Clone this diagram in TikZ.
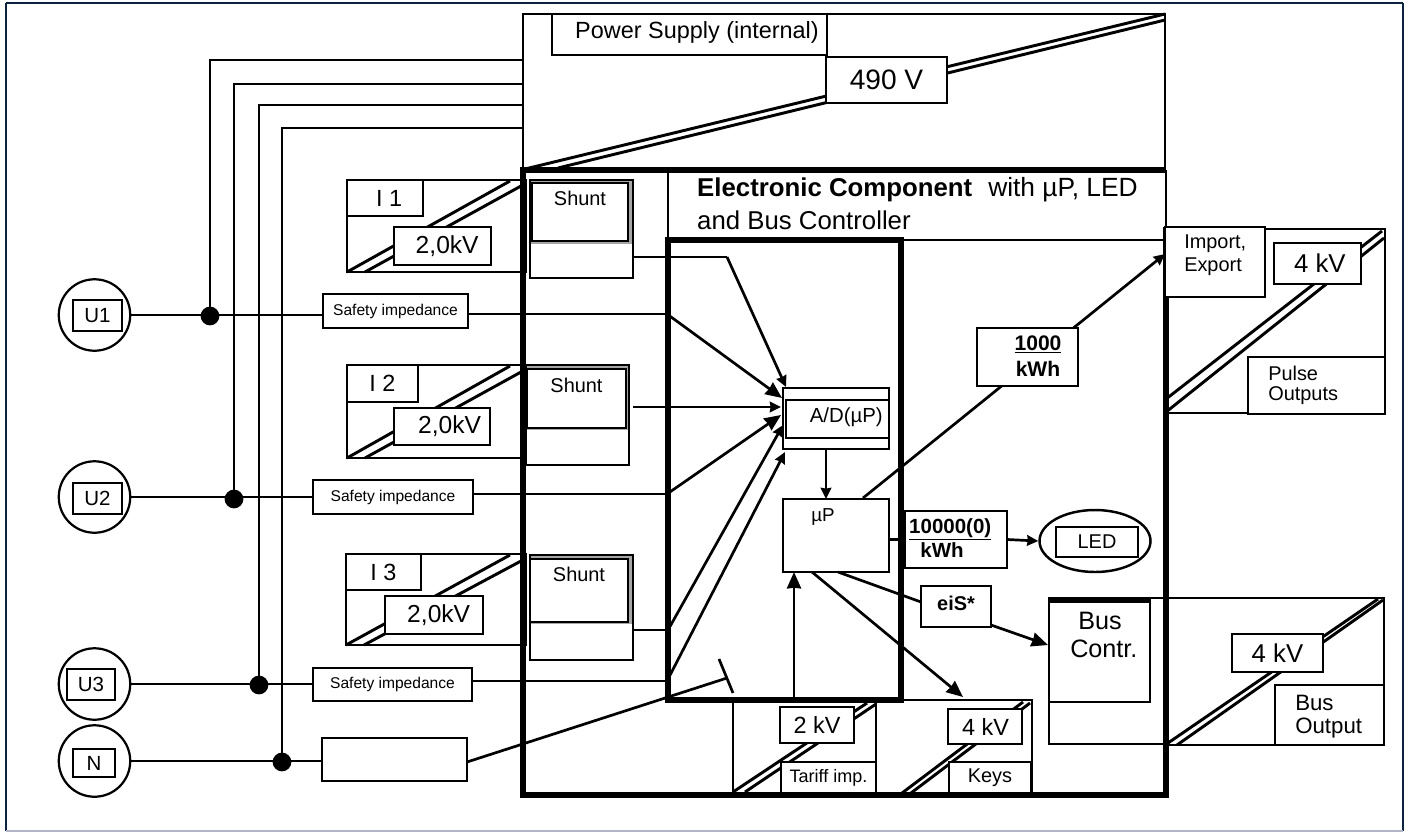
\documentclass[tikz,border=0pt]{standalone}
\usepackage{fontspec}
\setmainfont{Liberation Sans}
\usepackage{tikz}
\usetikzlibrary{arrows.meta, positioning, shapes.geometric}
\newcommand{\fsz}[1]{\fontsize{#1}{#1}\selectfont}
\definecolor{framenavy}{HTML}{0B2240}
\definecolor{framegrey}{HTML}{B4B4C8}

\tikzset{
  wh/.style 2 args={minimum width=#1*0.03cm, minimum height=#2*0.03cm, inner sep=0pt, outer sep=0pt, anchor=north west},
  wire/.style={line width=2.3pt},
  panel/.style={line width=2.5pt},
  heavy/.style={line width=5pt},
  box/.style={draw, line width=2.1pt, fill=white},
  lbl/.style={font=\fsz{17}, inner sep=0pt, anchor=west},
  dot/.style={circle, fill=black, minimum size=16pt, inner sep=0pt},
  source/.style={circle, draw, line width=1.9pt, minimum size=61pt, inner sep=0pt},
  shuntin/.style={draw, line width=2.4pt, fill=white, font=\fsz{17}},
  smalltip/.style={-{Stealth[length=9.5pt, width=9pt, inset=0.6pt]}},
}

\begin{document}
\begin{tikzpicture}[
  >={Stealth[length=14pt, width=12pt, inset=0.6pt]},
  x=0.03cm, y=-0.03cm,
]
\useasboundingbox (0,0) rectangle (1412,832);

% --- Outer frame ---
\draw[line width=2.2pt, framenavy] (6,3) -- (1403,3);
\draw[line width=2.2pt, framenavy] (6,3) -- (6,831);
\draw[line width=2.2pt, framenavy] (1403,3) -- (1403,831);
\draw[line width=1.5pt, framegrey] (6,831) -- (1403,831);

% --- Power supply ---
\draw[panel] (523,170) -- (523,14) -- (1165,14) -- (1165,170);
\draw[panel] (525,169) -- (1165,14);
\draw[panel] (558,168) -- (1165,20);
\node[box, wh={275}{41}] (psu) at (552,14) {};
\node[lbl, font=\fsz{20}] at (575,32) {Power Supply (internal)};
\node[box, wh={121}{46}, font=\fsz{24}] (psuv) at (826,57) {490 V};

% --- Voltage sources ---
\node[source] (uone) at (94.5,315) {};
\node[source] (utwo) at (94.5,497) {};
\node[source] (uthree) at (94.5,684) {};
\node[source] (un) at (94.5,761) {};
\node[box, wh={49}{31}, font=\fsz{17.5}] at (73,300) {U1\hspace{11pt}};
\node[box, wh={49}{31}, font=\fsz{17.5}] at (73,483) {U2\hspace{11pt}};
\node[box, wh={48}{31}, font=\fsz{17.5}] at (67,669) {U3\hspace{9pt}};
\node[box, wh={42}{28}, font=\fsz{17.5}] at (73,749) {N};

% --- Impedances ---
\node[box, wh={145}{34}, font=\fsz{13.3}] (zone) at (323,294) {Safety impedance};
\node[box, wh={160}{34}, font=\fsz{13.3}] (ztwo) at (313,480) {Safety impedance};
\node[box, wh={159}{33}, font=\fsz{13.3}] (zthree) at (313,668) {Safety impedance};
\node[box, wh={145}{43}] (zn) at (322,738) {};

% --- Bus lines ---
\coordinate (busa) at (523,60);
\coordinate (busb) at (523,84);
\coordinate (busc) at (523,105);
\coordinate (busd) at (523,128);
\node[dot] (dota) at (210,316) {};
\node[dot] (dotb) at (234,499) {};
\node[dot] (dotc) at (259,685) {};
\node[dot] (dotd) at (282,762) {};
\draw[wire] (dota.center) |- (busa);
\draw[wire] (dotb.center) |- (busb);
\draw[wire] (dotc.center) |- (busc);
\draw[wire] (dotd.center) |- (busd);
\draw[wire] (uone.east) -- (uone.east -| zone.west);
\draw[wire] (utwo.east) -- (utwo.east -| ztwo.west);
\draw[wire] (uthree.east) -- (uthree.east -| zthree.west);
\draw[wire] (un.east) -- (un.east -| zn.west);

% --- Current inputs ---
\draw[panel] (347,180) rectangle (526,272);
\draw[panel] (347,272) -- (510,181);
\draw[panel] (365,272) -- (521,186);
\node[box, wh={76}{36}, font=\fsz{20}] at (347,180) {\hspace{7pt}I 1};
\node[box, wh={97}{38}, font=\fsz{21}] (kva) at (394,227) {\hspace{8pt}2,0kV};

\draw[panel] (347,365) rectangle (526,458);
\draw[panel] (347,458) -- (510,366);
\draw[panel] (365,458) -- (521,372);
\node[box, wh={71}{37}, font=\fsz{20}] at (347,365) {I 2};
\node[box, wh={96}{37}, font=\fsz{21}] (kvb) at (394,408) {\hspace{13pt}2,0kV};

\draw[panel] (346,554) rectangle (526,645);
\draw[panel] (346,645) -- (510,555);
\draw[panel] (364,645) -- (521,561);
\node[box, wh={75}{36}, font=\fsz{20}] at (346,554) {I 3};
\node[box, wh={98}{38}, font=\fsz{21}] (kvc) at (385,596) {\hspace{8pt}2,0kV};

% --- Electronic component ---
\draw[heavy] (1166,227) -- (1166,795) -- (523,795) -- (523,170) -- (1166,170);
\draw[panel] (1166,170) -- (1166,227);
\draw[panel] (668,170) -- (668,240);
\draw[panel] (900,240) -- (1166,240);
\node[lbl, font=\fsz{22}] (title) at (697,190) {\textbf{Electronic Component}};
\node[lbl, font=\fsz{22.5}] at (988,190) {with µP, LED};
\node[lbl, font=\fsz{22}] at (697,220) {and Bus Controller};
\draw[heavy] (668,240) rectangle (901,700);

% --- Shunts ---
\node[draw, line width=2.2pt, fill=white, wh={103}{98}] (shunta) at (530,180) {};
\fill[gray!70] (531,181) rectangle (632,244);
\node[shuntin, wh={96}{58}] at (532,183) {\raisebox{24pt}{Shunt}};
\node[draw, line width=2.2pt, fill=white, wh={103}{100}] (shuntb) at (526,365) {};
\fill[gray!70] (527,366) rectangle (628,430);
\node[shuntin, wh={99}{59}] at (527,369) {\raisebox{23pt}{Shunt}};
\node[draw, line width=2.2pt, fill=white, wh={103}{105}] (shuntc) at (530,555) {};
\fill[gray!70] (531,556) rectangle (632,624);
\node[shuntin, wh={98}{63}] at (530,559) {\raisebox{27pt}{Shunt}};

% --- A/D and processor ---
\node[box, wh={106}{61}] (adout) at (783,388) {};
\node[draw, line width=2.1pt, wh={103}{38}] (adin) at (786,400) {};
\node[lbl, anchor=east, font=\fsz{17.4}] at (883,417) {A/D(µP)};
\node[box, wh={106}{73}] (mup) at (783,499) {};
\node[font=\fsz{16}] at (823,517) {µP};
\coordinate (ina) at (786,387);
\coordinate (inb) at (782,398);
\coordinate (inc) at (781,407);
\coordinate (ind) at (781,415);
\coordinate (ine) at (783,425);
\coordinate (inf) at (785,452);
\draw[wire] (shunta.east |- 0,257) -- (727,257);
\draw[wire, smalltip] (727,257) -- (ina);
\draw[wire] (zone.east |- 0,314) -- (667,314);
\draw[wire, ->] (667,314) -- (inb);
\draw[wire, smalltip] (633,407) -- (inc);
\draw[wire] (ztwo.east |- 0,494) -- (667,494);
\draw[wire, ->] (667,494) -- (ind);
\draw[wire] (shuntc.east |- 0,630) -- (668,630);
\draw[wire, smalltip] (668,630) -- (ine);
\draw[wire] (zthree.east |- 0,681) -- (667,681);
\draw[wire, smalltip] (667,681) -- (inf);
\draw[wire, smalltip] (adout.south -| 826,0) -- (mup.north -| 826,0);

% --- Pulse outputs ---
\draw[panel] (1166,229) -- (1385,229) -- (1385,413) -- (1166,413);
\draw[panel] (1166,399) -- (1382,231);
\draw[panel] (1166,412) -- (1384,238);
\node[box, wh={87}{41}, font=\fsz{22}] (kvpulse) at (1274,243) {\hspace{4pt}4 kV};
\node[box, line width=2.2pt, wh={137}{57}] (pulse) at (1248,357) {};
\node[lbl, align=left] at (1268,373) {Pulse};
\node[lbl, align=left] at (1268,396) {Outputs};
\node[draw, line width=2.4pt, fill=white, wh={100}{70}] (imp) at (1165,227) {};
\node[lbl] at (1184,244) {Import,};
\node[lbl] at (1184,267) {Export};

% --- Count labels ---
\coordinate (muptop) at (863,498);
\coordinate (impin) at (1165,254);
\draw[wire, smalltip] (muptop) -- (impin);
\node[box, wh={101}{58}] (kwha) at (977,328) {};
\node[font=\bfseries\fsz{18}, align=center] at (1038,356) {\underline{1000}\\[4pt]kWh};
\node[box, wh={102}{57}] (kwhb) at (905,511) {};
\node[lbl, font=\bfseries\fsz{17.5}, anchor=north west] at (909,518) {\underline{10000(0)}};
\node[font=\bfseries\fsz{17.5}] at (942,550) {kWh};
\node[ellipse, draw, line width=2.1pt, minimum width=111*0.03cm, minimum height=62*0.03cm, inner sep=0pt] (led) at (1095,541) {};
\node[box, wh={82}{30}, font=\fsz{17}] at (1056,527) {LED};
\draw[wire] (mup.east |- kwhb.west) -- (kwhb.west);
\draw[wire, smalltip] (kwhb.east) -- (led.west);

% --- Bus output ---
\draw[panel] (1166,598) -- (1384,598) -- (1384,745) -- (1166,745);
\draw[panel] (1168,743) -- (1378,599);
\draw[panel] (1177,745) -- (1383,600);
\node[box, wh={91}{38}, font=\fsz{22}] (kvbus) at (1232,634) {4 kV};
\node[box, wh={109}{60}] (busout) at (1275,685) {};
\node[lbl, font=\fsz{19}] at (1295,703) {Bus};
\node[lbl, font=\fsz{19}] at (1295,728) {Output};
\draw[panel] (1049,598) rectangle (1166,744);
\node[draw, line width=2.2pt, wh={101}{104}] (contr) at (1049,598) {};
\draw[heavy] (1049,600) -- (1150,600);
\node[lbl, font=\fsz{21.5}] at (1078,621) {Bus};
\node[lbl, font=\fsz{21.5}] at (1070,649) {Contr.};
\draw[heavy] (1166,590) -- (1166,615);
\draw[heavy] (1166,744) -- (1166,760);

% --- eiS ---
\node[box, wh={70}{41}, font=\bfseries\fsz{17}] (eis) at (921,586) {\raisebox{6pt}{eiS*}};
\draw[wire] (838,572) -- (eis.west |- 0,602);
\draw[wire, ->] (eis.east |- 0,625) -- (1048,645);

% --- Tariff input ---
\draw[panel] (733,700) -- (733,795);
\draw[panel] (876,700) -- (876,795);
\draw[panel] (733,792) -- (867,703);
\draw[panel] (745,792) -- (876,704);
\node[box, wh={74}{36}, font=\fsz{20}] (kvtariff) at (780,707) {2 kV};
\node[box, wh={95}{31}, font=\fsz{15.4}] (tariff) at (781,762) {Tariff imp.};
\draw[wire, ->] (794,698) -- (mup.south -| 794,0);

% --- Keys ---
\draw[panel] (902,700) -- (1032,700) -- (1032,795);
\draw[panel] (902,793) -- (1023,702);
\draw[panel] (911,793) -- (1030,703);
\node[box, wh={74}{35}, font=\fsz{20}] (kvkeys) at (948,709) {\hspace{1pt}4 kV};
\node[box, wh={82}{31}, font=\fsz{17}] (keys) at (949,762) {Keys};
\draw[wire, ->] (812,572) -- (963,697);

% --- Tariff switch ---
\coordinate (swtip) at (727,678);
\draw[wire] (zn.east |- 0,762) -- (swtip);
\draw[wire] (719,659) -- (733,693);

% --- Frame on top ---
\draw[heavy] (523,795) -- (1166,795);

\end{tikzpicture}
\end{document}
